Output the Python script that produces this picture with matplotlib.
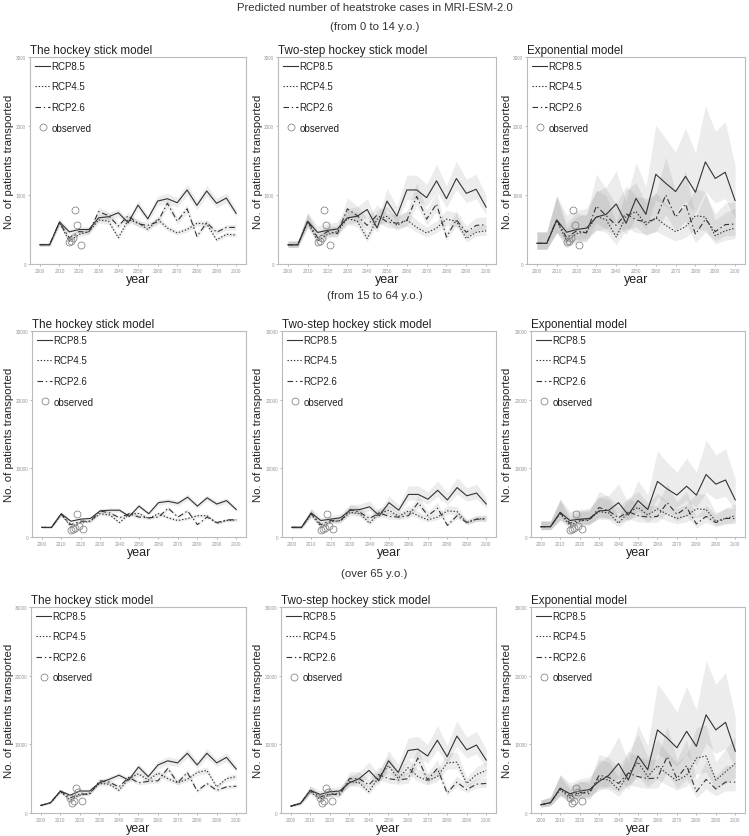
import matplotlib.pyplot as plt
import numpy as np

plt.rcParams['font.family'] = ['Liberation Sans', 'DejaVu Sans']
plt.rcParams['lines.scale_dashes'] = False

years = list(range(2000, 2101, 5))
obs_years = [2015, 2016, 2017, 2018, 2019, 2021]

models = ["The hockey stick model", "Two-step hockey stick model", "Exponential model"]
age_groups = ["(from 0 to 14 y.o.)", "(from 15 to 64 y.o.)", "(over 65 y.o.)"]
scenarios = ["RCP8.5", "RCP4.5", "RCP2.6"]

band_hi = [1.08, 1.2, 1.55]
band_lo = [1.08, 1.15, 1.4]

# ---- 0 to 14 y.o.
hockey_0_14_rcp85 = [280, 280, 610, 466, 500, 500, 670, 685, 743, 597, 854, 655, 912, 946, 888, 1073, 850, 1058, 879, 956, 733]
hockey_0_14_rcp45 = [280, 280, 600, 330, 430, 470, 640, 620, 380, 640, 600, 500, 650, 520, 450, 500, 590, 580, 350, 430, 420]
hockey_0_14_rcp26 = [280, 280, 600, 380, 470, 460, 760, 700, 550, 700, 580, 560, 610, 880, 620, 800, 400, 600, 460, 530, 530]
twostep_0_14_rcp85 = [278, 278, 620, 458, 488, 507, 668, 693, 790, 522, 912, 693, 1073, 1073, 961, 1205, 946, 1239, 1024, 1083, 824]
twostep_0_14_rcp45 = [278, 278, 610, 330, 430, 470, 660, 620, 370, 650, 690, 560, 640, 530, 450, 520, 650, 620, 370, 460, 480]
twostep_0_14_rcp26 = [278, 278, 620, 380, 470, 440, 800, 700, 560, 710, 610, 590, 630, 980, 650, 870, 390, 640, 460, 560, 570]
exp_0_14_rcp85 = [300, 300, 640, 460, 500, 520, 680, 720, 870, 590, 950, 720, 1300, 1170, 1050, 1270, 1040, 1480, 1240, 1330, 920]
exp_0_14_rcp45 = [300, 300, 630, 330, 440, 470, 690, 640, 390, 690, 760, 570, 670, 560, 470, 540, 700, 680, 410, 480, 520]
exp_0_14_rcp26 = [300, 300, 640, 380, 480, 450, 840, 700, 560, 730, 640, 610, 650, 1000, 680, 870, 430, 650, 470, 570, 580]
obs_0_14 = [320, 340, 380, 780, 560, 280]

# ---- 15 to 64 y.o.
hockey_15_64_rcp85 = [1400, 1400, 3400, 2300, 2600, 2700, 3800, 3900, 3900, 3000, 4500, 3400, 5000, 5200, 4900, 5800, 4500, 5700, 4800, 5300, 4000]
hockey_15_64_rcp45 = [1400, 1400, 3300, 1500, 2100, 2300, 3400, 3200, 2100, 3400, 3400, 2700, 3400, 2800, 2400, 2700, 3100, 3100, 2000, 2400, 2500]
hockey_15_64_rcp26 = [1400, 1400, 3300, 1800, 2300, 2300, 3800, 3500, 2800, 3400, 2900, 2800, 2900, 4200, 2900, 3800, 1800, 2900, 2100, 2500, 2500]
twostep_15_64_rcp85 = [1400, 1400, 3500, 2400, 2600, 2800, 3900, 4000, 4400, 3100, 5000, 3900, 6200, 6200, 5500, 6800, 5400, 7200, 6000, 6400, 4800]
twostep_15_64_rcp45 = [1400, 1400, 3300, 1500, 2200, 2400, 3600, 3400, 2000, 3500, 3900, 3000, 3800, 3100, 2500, 2900, 3800, 3700, 2100, 2600, 2700]
twostep_15_64_rcp26 = [1400, 1400, 3400, 1800, 2400, 2300, 4000, 3600, 2700, 3500, 3000, 2900, 3100, 5000, 3100, 4200, 1700, 3100, 2100, 2600, 2600]
exp_15_64_rcp85 = [1500, 1500, 3600, 2400, 2600, 2700, 3800, 3900, 5000, 3200, 5300, 4000, 8100, 7000, 6100, 7400, 6100, 9100, 7700, 8300, 5400]
exp_15_64_rcp45 = [1500, 1500, 3400, 1700, 2300, 2600, 3700, 3500, 2000, 3600, 4300, 3200, 4100, 3300, 2700, 3100, 4100, 4000, 2300, 2700, 3100]
exp_15_64_rcp26 = [1500, 1500, 3500, 2000, 2500, 2400, 4300, 3800, 2800, 3700, 3100, 2900, 3000, 5000, 3300, 4300, 1900, 3000, 2100, 2700, 2700]
obs_15_64 = [1000, 1100, 1300, 3300, 1600, 1200]

# ---- over 65 y.o.
hockey_65_rcp85 = [1100, 1500, 3200, 2600, 3200, 3200, 4400, 4900, 5500, 4800, 6700, 5300, 7000, 7600, 7300, 8700, 7000, 8700, 7300, 8100, 6400]
hockey_65_rcp45 = [1100, 1500, 3100, 1900, 2600, 2900, 4300, 4200, 3300, 5000, 5700, 4800, 5800, 5000, 4400, 4900, 5900, 6200, 3800, 5000, 5300]
hockey_65_rcp26 = [1100, 1500, 3200, 2200, 2800, 2700, 4700, 4500, 3800, 5200, 4400, 4600, 4700, 6500, 4400, 5900, 3200, 4300, 3300, 3800, 3900]
twostep_65_rcp85 = [1000, 1400, 3300, 2700, 3100, 3200, 4400, 5000, 6200, 4700, 7600, 5900, 9100, 9300, 8300, 10600, 8200, 11200, 9200, 9900, 7700]
twostep_65_rcp45 = [1000, 1400, 3100, 2000, 2700, 2900, 4600, 4400, 3100, 5200, 6900, 5000, 6600, 5300, 4700, 5300, 7300, 7400, 4300, 5600, 6200]
twostep_65_rcp26 = [1000, 1400, 3300, 2300, 2800, 2600, 5000, 5000, 4100, 5600, 5000, 4800, 5000, 8000, 4800, 6500, 2900, 4500, 3400, 4200, 4300]
exp_65_rcp85 = [1200, 1500, 3600, 2800, 3200, 3400, 4600, 5500, 7200, 4800, 8300, 6300, 12100, 10900, 9500, 11900, 9700, 14300, 12100, 13200, 9000]
exp_65_rcp45 = [1200, 1500, 3400, 2200, 2900, 3100, 5000, 4800, 3400, 5700, 7400, 5300, 6900, 5700, 4700, 5500, 8000, 8300, 4800, 6000, 7200]
exp_65_rcp26 = [1200, 1500, 3600, 2500, 3000, 2800, 5500, 5200, 4300, 5800, 5300, 5000, 5100, 8200, 5000, 6900, 3100, 4900, 3500, 4500, 4500]
obs_65 = [2200, 1500, 1700, 3700, 3000, 1800]

panels = [
    [[hockey_0_14_rcp85, hockey_0_14_rcp45, hockey_0_14_rcp26],
     [twostep_0_14_rcp85, twostep_0_14_rcp45, twostep_0_14_rcp26],
     [exp_0_14_rcp85, exp_0_14_rcp45, exp_0_14_rcp26]],
    [[hockey_15_64_rcp85, hockey_15_64_rcp45, hockey_15_64_rcp26],
     [twostep_15_64_rcp85, twostep_15_64_rcp45, twostep_15_64_rcp26],
     [exp_15_64_rcp85, exp_15_64_rcp45, exp_15_64_rcp26]],
    [[hockey_65_rcp85, hockey_65_rcp45, hockey_65_rcp26],
     [twostep_65_rcp85, twostep_65_rcp45, twostep_65_rcp26],
     [exp_65_rcp85, exp_65_rcp45, exp_65_rcp26]],
]
observed = [obs_0_14, obs_15_64, obs_65]
ymax = [3000, 30000, 30000]

styles = ['-', (0, (1, 1.3)), (0, (4, 2, 1, 2))]

W, H = 749, 837
fig = plt.figure(figsize=(W / 100, H / 100), dpi=100)

# pixel layout (top, bottom) per row, lefts per row, rights per column
row_tb = [(58, 265), (332, 538), (608, 814)]
row_left = [[30, 278, 527], [32, 282, 531], [31, 281, 531]]
col_right = [246, 496, 745]
row_sub_y = [27, 296, 574]
ylab_x = [14, 263, 512]   # right edge of the rotated y label

fig.text(0.5, 1 - 8 / H, "Predicted number of heatstroke cases in MRI-ESM-2.0",
         ha='center', va='center', fontsize=8.2, color='#333333')

for r in range(3):
    fig.text(0.5, 1 - row_sub_y[r] / H, age_groups[r], ha='center', va='center',
             fontsize=8.2, color='#333333')
    top, bot = row_tb[r]
    for c in range(3):
        left = row_left[r][c]
        width = col_right[c] - left
        height = bot - top
        ax = fig.add_axes([left / W, 1 - bot / H, width / W, height / H])
        yrs = np.array(years)
        for s in range(3):
            v = np.array(panels[r][c][s], dtype=float)
            ax.fill_between(yrs, v / band_lo[c], v * band_hi[c], color='#808080',
                            alpha=0.15, linewidth=0)
        for s in range(3):
            ax.plot(years, panels[r][c][s], color='#333333', lw=0.8,
                    linestyle=styles[s], label=scenarios[s])
        ax.plot(obs_years, observed[r], linestyle='none', marker='o', ms=5,
                mfc='none', mec='#888888', mew=0.6, label='observed')

        ax.set_xlim(1995, 2105)
        ax.set_ylim(0, ymax[r])
        ax.set_xticks(range(2000, 2101, 10))
        ax.set_yticks(np.linspace(0, ymax[r], 4))
        ax.tick_params(labelsize=3.4, labelcolor='#999999', color='#999999',
                       length=1.5, width=0.5, pad=1.2)
        for sp in ax.spines.values():
            sp.set_color('#bbbbbb')
            sp.set_linewidth(0.8)
        ax.set_title(models[c], loc='left', fontsize=8.4, color='#222222', pad=3)
        ax.set_xlabel('year', fontsize=9, color='#222222', labelpad=0.5)
        ax.set_ylabel('No. of patients transported', fontsize=8.2, color='#222222')
        ax.yaxis.set_label_coords((ylab_x[c] - left) / width, 0.5)
        leg = ax.legend(loc='upper left', frameon=False, fontsize=7, labelspacing=1.08,
                        handlelength=1.55, handletextpad=0.15, borderaxespad=0,
                        borderpad=0, bbox_to_anchor=(5 / width, 1 - 4 / height))
        for t in leg.get_texts():
            t.set_color('#222222')

fig.savefig('out.png', dpi=100)
